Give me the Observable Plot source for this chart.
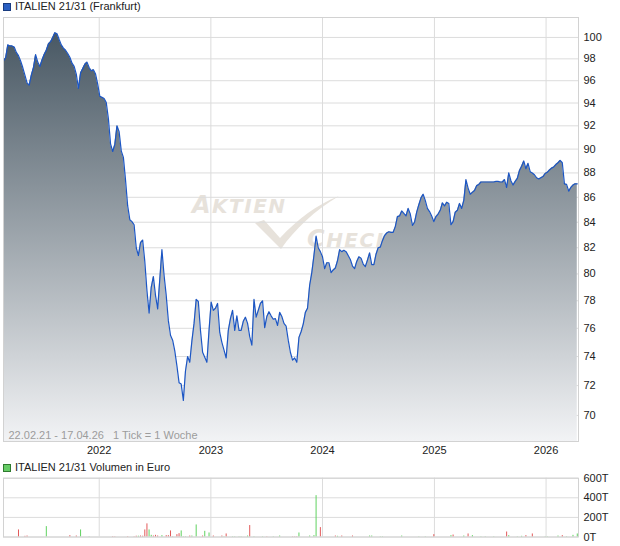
<!DOCTYPE html>
<html>
<head>
<meta charset="utf-8">
<script src="https://cdn.jsdelivr.net/npm/d3@7"></script>
<script src="https://cdn.jsdelivr.net/npm/@observablehq/plot@0.6"></script>
<style>
  body { margin: 0; background: #fff; font-family: "Liberation Sans", Arial, sans-serif; }
  #wrap { position: relative; width: 620px; height: 546px; overflow: hidden; }
  .legend { position: absolute; left: 3px; height: 13px; line-height: 13px; font-size: 11px; color: #222;
            display: flex; align-items: center; white-space: nowrap; z-index: 3; }
  .legend .sw { width: 6px; height: 6px; border: 1px solid; margin-right: 4px; }
  #mark { position: absolute; left: 0; top: 0; width: 620px; height: 546px; z-index: 0; color: #e7e2db;
          font-family: "DejaVu Sans", sans-serif; font-style: italic; font-weight: bold; }
  #mark .word { position: absolute; line-height: 22px; letter-spacing: 1.5px; white-space: nowrap; }
  #mark .big { font-size: 24px; }
  #mark .small { font-size: 20px; }
  .chart { position: absolute; left: 0; z-index: 1; }
</style>
</head>
<body>
<div id="wrap">
  <div id="mark" aria-hidden="true">
    <svg width="620" height="546" style="position:absolute;left:0;top:0">
      <path d="M255,223 L264,220 L280,238 C298,219 316,205 339,196 C314,211 295,229 281,249 Z" fill="#e7e2db"/>
    </svg>
    <div class="word" style="left:192px;top:194px"><span class="big">A</span><span class="small">KTIEN</span></div>
    <div class="word" style="left:307px;top:228px"><span class="big">C</span><span class="small">HECK</span></div>
  </div>
  <div class="legend" style="top:0px"><span class="sw" style="background:#2a5fc2;border-color:#193c80"></span>ITALIEN 21/31 (Frankfurt)</div>
  <div class="legend" style="top:461px"><span class="sw" style="background:#66cc66;border-color:#2f7a2f"></span>ITALIEN 21/31 Volumen in Euro</div>
  <div id="price" class="chart" style="top:0px"></div>
  <div id="volume" class="chart" style="top:470px"></div>
</div>
<script>
// Weekly closing prices (one tick = one week), starting 22.02.21
const firstWeek = "2021-02-22";
const lastDay = "2026-04-17";
const weeklyClose = [
  97.8, 98.1, 99.3, 99.2, 99.2, 99.1, 98.6, 98.3, 97.8, 97.2,
  96.5, 95.8, 95.6, 96.5, 97.2, 98.4, 97.7, 97.3, 97.9, 98.4,
  98.8, 99.4, 99.6, 100.0, 100.45, 100.35, 99.8, 99.3, 99.0, 98.8,
  98.5, 98.15, 97.6, 97.3, 96.6, 95.3, 96.7, 97.1, 97.5, 97.7,
  97.2, 96.9, 97.0, 96.6, 95.7, 94.6, 94.5, 94.4, 94.05, 92.6,
  90.45, 89.8, 90.4, 92.0, 91.5, 89.85, 89.3, 87.4, 85.3, 84.2,
  84.05, 83.8, 82.0, 81.4, 82.4, 82.6, 80.95, 78.75, 77.1, 79.0,
  79.8, 78.4, 77.4, 79.6, 81.85, 79.9, 78.4, 76.55, 75.5, 75.15,
  74.4, 73.35, 72.2, 72.1, 71.0, 73.0, 74.0, 73.6, 75.1, 76.35,
  78.1, 77.95, 75.85, 74.3, 73.95, 73.6, 75.85, 77.9, 77.3, 77.45,
  77.8, 75.7, 75.0, 74.45, 73.9, 75.85, 76.7, 77.3, 75.85, 76.9,
  75.85, 75.85, 76.5, 76.8, 76.35, 75.4, 74.8, 78.1, 76.8, 77.3,
  77.8, 78.0, 76.05, 76.85, 77.2, 76.9, 76.65, 76.7, 76.2, 77.15,
  76.85, 76.35, 76.15, 75.15, 74.3, 73.75, 73.9, 73.6, 75.35, 75.75,
  76.3, 77.15, 77.45, 79.15, 80.1, 81.4, 82.9, 82.0, 81.7, 81.3,
  80.4, 80.85, 80.85, 80.1, 80.3, 80.45, 81.0, 81.85, 81.7, 81.8,
  81.7, 81.4, 81.1, 80.6, 80.4, 80.95, 81.3, 81.2, 80.75, 80.55,
  81.05, 81.6, 80.7, 80.7, 81.5, 82.0, 82.05, 82.55, 82.95, 83.15,
  83.25, 83.2, 83.2, 83.65, 84.45, 84.5, 84.9, 84.7, 84.5, 85.1,
  84.65, 83.75, 84.0, 84.8, 85.4, 85.95, 86.25, 85.75, 85.1, 84.85,
  84.5, 84.05, 84.45, 84.65, 84.95, 85.55, 85.3, 85.6, 85.5, 83.8,
  84.05, 84.8, 84.95, 85.5, 85.1, 85.75, 87.45, 86.75, 86.25, 86.4,
  86.55, 86.95, 87.05, 87.25, 87.25, 87.25, 87.25, 87.25, 87.25, 87.25,
  87.3, 87.3, 87.25, 87.25, 87.45, 86.8, 88.0, 87.35, 87.0, 87.3,
  87.55, 88.2, 88.55, 89.0, 88.35, 88.8, 88.1, 88.0, 87.85, 87.6,
  87.5, 87.6, 87.7, 87.95, 88.05, 88.25, 88.4, 88.5, 88.7, 88.85,
  89.05, 88.85, 87.1, 87.05, 86.5, 86.8, 87.0, 87.1, 87.1
];

// Weekly turnover in thousand euro (week number, amount, 1 = up week / 0 = down week)
const volWeek = [7, 10, 11, 20, 31, 34, 36, 40, 51, 52, 58, 61, 62, 63, 64, 65, 66, 67, 68, 69,
  70, 71, 72, 74, 76, 77, 78, 79, 81, 82, 83, 84, 85, 87, 88, 90, 93, 94, 96, 98,
  102, 103, 104, 107, 108, 110, 111, 114, 115, 117, 121, 123, 126, 129, 135, 136, 137, 138, 143, 145,
  146, 148, 155, 156, 158, 163, 171, 172, 176, 177, 186, 194, 197, 201, 209, 210, 215, 217, 219, 223,
  225, 229, 235, 236, 240, 242, 244, 247, 253, 254, 259, 261, 263, 266, 268];
const volAmount = [72, 7, 10, 106, 14, 10, 72, 3, 4, 3, 4, 3, 8, 8, 10, 8, 72, 134, 72, 17,
  10, 17, 10, 14, 14, 14, 62, 3, 24, 34, 62, 3, 3, 10, 10, 123, 10, 58, 41, 10,
  10, 3, 31, 3, 3, 3, 3, 10, 117, 3, 3, 3, 3, 10, 3, 3, 3, 41, 10, 14,
  422, 96, 10, 7, 10, 10, 10, 10, 3, 3, 10, 3, 3, 24, 14, 20, 10, 31, 14, 3,
  3, 3, 51, 14, 3, 7, 14, 31, 3, 3, 10, 14, 3, 17, 31];
const volUp = [0, 0, 0, 1, 0, 0, 1, 1, 0, 0, 0, 0, 0, 1, 0, 0, 0, 0, 1, 1,
  0, 0, 0, 1, 0, 0, 0, 0, 0, 0, 1, 1, 1, 0, 1, 1, 0, 1, 1, 0,
  0, 1, 0, 1, 1, 1, 1, 1, 0, 1, 1, 0, 1, 1, 0, 0, 0, 1, 1, 1,
  1, 0, 0, 1, 0, 0, 1, 1, 1, 1, 1, 1, 1, 0, 1, 0, 1, 0, 1, 1,
  1, 1, 0, 1, 1, 1, 0, 0, 1, 1, 1, 0, 1, 1, 1];

const yearLabels = [2022, 2023, 2024, 2025, 2026];
const priceTicks = [70, 72, 74, 76, 78, 80, 82, 84, 86, 88, 90, 92, 94, 96, 98, 100];
const volumeTicks = [0, 200, 400, 600];
const periodNote = "22.02.21 - 17.04.26\u00a0\u00a0\u00a01 Tick = 1 Woche";

const start = new Date(firstWeek);
const end = new Date(lastDay);
const weekDate = (w) => d3.utcDay.offset(start, 7 * w);
const series = weeklyClose.map((close, i) => ({date: weekDate(i), close}));
const volume = volWeek.map((w, i) => ({date: weekDate(w), amount: volAmount[i], up: volUp[i] === 1}));
const yearDates = yearLabels.map((y) => new Date(Date.UTC(y, 0, 1)));
const priceFloor = 68.3;

const baseStyle = {background: "transparent", fontFamily: "'Liberation Sans', Arial, sans-serif", fontSize: "11px", color: "#222", overflow: "visible"};
const gridColor = "#dcdcdc";

function addFade(svg, id, y0, y1, c0, c1) {
  const ns = "http://www.w3.org/2000/svg";
  const defs = document.createElementNS(ns, "defs");
  const g = document.createElementNS(ns, "linearGradient");
  g.setAttribute("id", id);
  g.setAttribute("gradientUnits", "userSpaceOnUse");
  g.setAttribute("x1", 0); g.setAttribute("x2", 0);
  g.setAttribute("y1", y0); g.setAttribute("y2", y1);
  for (const [offset, color] of [[0, c0], [1, c1]]) {
    const s = document.createElementNS(ns, "stop");
    s.setAttribute("offset", offset);
    s.setAttribute("stop-color", color);
    g.appendChild(s);
  }
  defs.appendChild(g);
  svg.insertBefore(defs, svg.firstChild);
}

const price = Plot.plot({
  width: 620, height: 460,
  marginTop: 17, marginBottom: 19, marginLeft: 3, marginRight: 42,
  style: baseStyle,
  x: {type: "utc", domain: [start, end], ticks: yearDates, tickFormat: "%Y", tickSize: 0, tickPadding: 5, label: null},
  y: {type: "log", domain: [priceFloor, 101.9], ticks: priceTicks, tickFormat: (d) => String(d), axis: "right", tickSize: 0, tickPadding: 5, label: null},
  marks: [
    Plot.ruleY(priceTicks, {stroke: gridColor}),
    Plot.ruleX(yearDates, {stroke: gridColor}),
    Plot.areaY(series, {x: "date", y1: priceFloor, y2: "close", fill: "url(#priceFade)"}),
    Plot.line(series, {x: "date", y: "close", stroke: "#1c56c4", strokeWidth: 1.2}),
    Plot.frame({stroke: "#d2d2d2"}),
    Plot.text([periodNote], {frameAnchor: "bottom-left", dx: 5, dy: -3, lineAnchor: "bottom", textAnchor: "start", fill: "#9c9c9c", fontSize: 11})
  ]
});
const yRange = price.scale("y").range;
addFade(price, "priceFade", Math.min(...yRange), Math.max(...yRange), "#42525e", "#f2f3f5");
document.getElementById("price").appendChild(price);

const vol = Plot.plot({
  width: 620, height: 76,
  marginTop: 7.7, marginBottom: 9.5, marginLeft: 3, marginRight: 42,
  style: baseStyle,
  x: {type: "utc", domain: [start, end], axis: null},
  y: {domain: [0, 600], ticks: volumeTicks, tickFormat: (d) => d + "T", axis: "right", tickSize: 0, tickPadding: 5, label: null},
  marks: [
    Plot.ruleY(volumeTicks, {stroke: gridColor}),
    Plot.ruleX(yearDates, {stroke: gridColor}),
    Plot.ruleX(volume, {x: "date", y1: 0, y2: "amount", stroke: (d) => d.up ? "#5fd25f" : "#e25a5a", strokeWidth: 1}),
    Plot.frame({stroke: "#d2d2d2"})
  ]
});
document.getElementById("volume").appendChild(vol);
</script>
</body>
</html>
